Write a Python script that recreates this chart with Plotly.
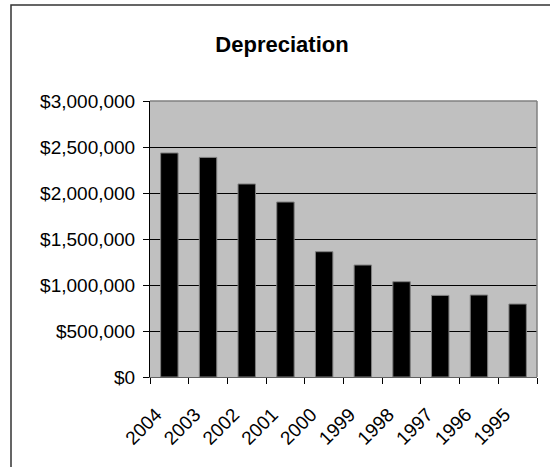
import plotly.graph_objects as go

years = ["2004", "2003", "2002", "2001", "2000", "1999", "1998", "1997", "1996", "1995"]
depreciation = [2435000, 2387000, 2098000, 1902000, 1362000, 1217000, 1036000, 887000, 891000, 793000]
y_ticks = [0, 500000, 1000000, 1500000, 2000000, 2500000, 3000000]

FONT = "Liberation Sans, Arial, sans-serif"

fig = go.Figure(
    go.Bar(
        x=years,
        y=depreciation,
        marker=dict(color="#000000", line=dict(color="#808080", width=1)),
        width=0.45,
    )
)

fig.update_layout(
    width=550,
    height=467,
    margin=dict(l=150, r=13, t=101, b=90),
    paper_bgcolor="#FFFFFF",
    plot_bgcolor="#C0C0C0",
    showlegend=False,
    title=dict(
        text="<b>Depreciation</b>",
        x=282 / 550,
        xanchor="center",
        xref="container",
        y=1 - 44 / 467,
        yref="container",
        yanchor="middle",
        font=dict(family=FONT, size=22, color="#000000"),
    ),
    bargap=0.55,
)

fig.update_xaxes(
    type="category",
    tickangle=-45,
    tickson="boundaries",
    ticks="outside",
    ticklen=6,
    tickcolor="#000000",
    tickwidth=1,
    showline=True,
    linecolor="#606060",
    linewidth=1,
    showgrid=False,
    ticklabelstandoff=18,
    ticklabelshift=-13,
    tickfont=dict(family=FONT, size=19, color="#000000"),
)

fig.update_yaxes(
    range=[0, 3000000],
    tickvals=y_ticks,
    tickformat="$,.0f",
    ticks="outside",
    ticklen=6,
    tickcolor="#000000",
    tickwidth=1,
    showline=True,
    linecolor="#000000",
    linewidth=1,
    showgrid=True,
    gridcolor="#000000",
    gridwidth=1,
    zeroline=False,
    ticklabelstandoff=4,
    tickfont=dict(family=FONT, size=19, color="#000000"),
)

# plot area border (gray) on top and right
fig.add_shape(type="line", xref="paper", yref="paper", x0=0, x1=1, y0=1, y1=1,
              line=dict(color="#808080", width=1.5), layer="above")
fig.add_shape(type="line", xref="paper", yref="paper", x0=1, x1=1, y0=0, y1=1,
              line=dict(color="#808080", width=1.5), layer="above")

# outer chart frame
fig.add_shape(type="rect", xref="paper", yref="paper",
              x0=(11 - 150) / 387, x1=1.2, y0=-0.6, y1=(377 - 5) / 276,
              line=dict(color="#333333", width=1.5), fillcolor="rgba(0,0,0,0)", layer="above")

fig.write_html("out.html", config={"displayModeBar": False},
               post_script="document.body.style.margin='0';")
